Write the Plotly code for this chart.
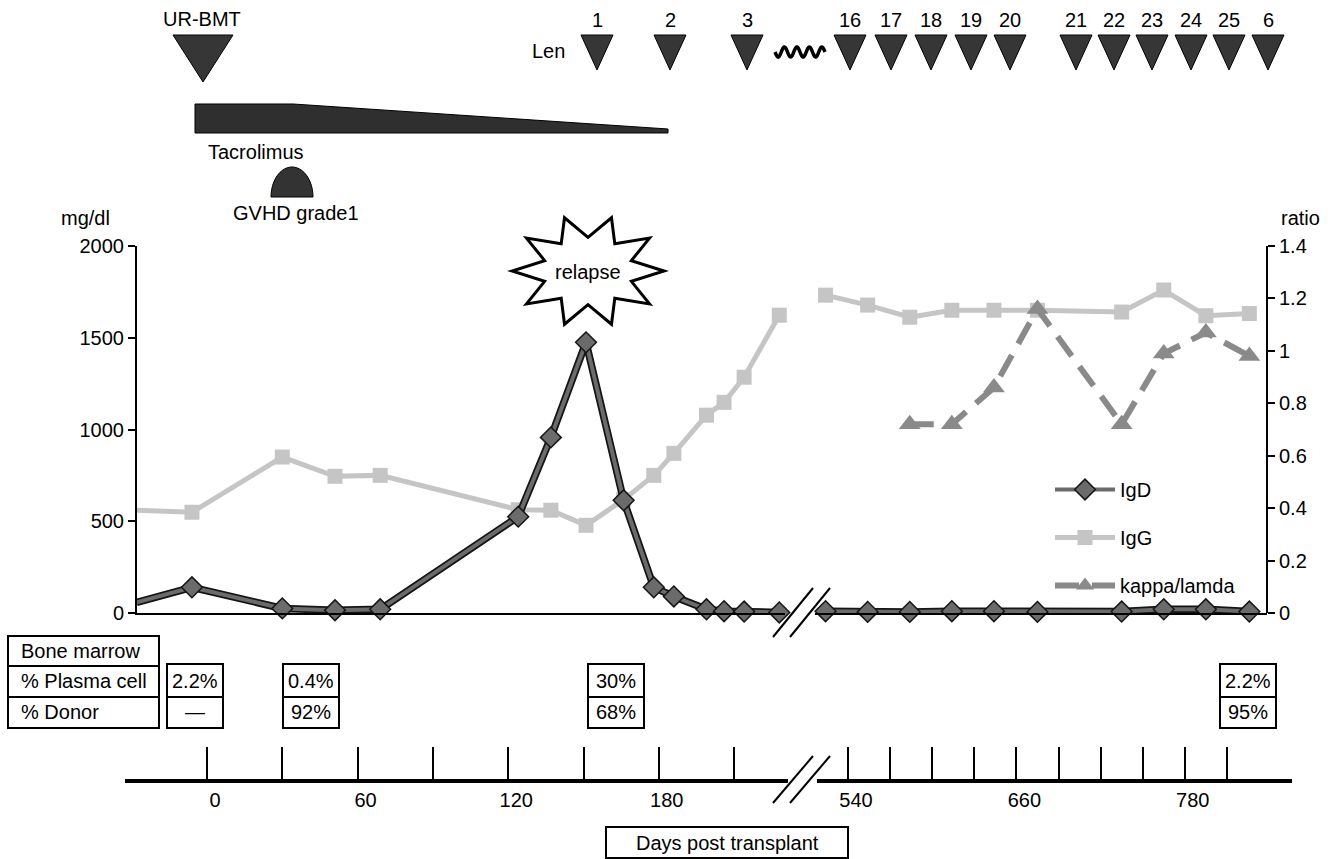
import numpy as np
import plotly.graph_objects as go

W, H = 1333, 859

# ---------------- data ----------------
# first period (before the axis break), days post transplant
days_early = [-28, -6, 30, 51, 69, 124, 137, 151, 166, 178, 186, 199, 206, 214, 228]
igd_early = [58, 140, 25, 15, 20, 525, 957, 1475, 614, 140, 90, 20, 10, 8, 3]
igg_early = [560, 549, 850, 745, 750, 563, 560, 478, 618, 750, 870, 1078, 1148, 1285, 1623]

# second period (after the axis break)
days_late = [524, 554, 584, 614, 644, 675, 735, 765, 795, 826]
igd_late = [10, 6, 6, 10, 10, 6, 8, 20, 20, 8]
igg_late = [1732, 1678, 1612, 1650, 1650, 1650, 1640, 1760, 1620, 1632]

kappa_days = [584, 614, 644, 675, 735, 765, 795, 826]
kappa_lambda = [0.72, 0.72, 0.86, 1.16, 0.72, 0.99, 1.07, 0.98]

# axis ticks
left_ticks = [0, 500, 1000, 1500, 2000]
right_ticks = [0, 0.2, 0.4, 0.6, 0.8, 1.0, 1.2, 1.4]
right_ticktext = ["0", "0.2", "0.4", "0.6", "0.8", "1", "1.2", "1.4"]
time_ticks_early = [0, 30, 60, 90, 120, 150, 180, 210]
time_labels_early = ["0", "", "60", "", "120", "", "180", ""]
time_ticks_late = [540, 570, 600, 630, 660, 690, 720, 750, 780, 810]
time_labels_late = ["540", "", "", "", "660", "", "", "", "780", ""]

# bone marrow findings
bm_plasma = ["2.2%", "0.4%", "30%", "2.2%"]
bm_donor = ["\u2014", "92%", "68%", "95%"]

# lenalidomide cycles
len_cycles = ["1", "2", "3", "16", "17", "18", "19", "20", "21", "22", "23", "24", "25", "6"]

# ---------------- layout helpers ----------------
FONT = "Liberation Sans, Arial, sans-serif"
FS = 20


def fx(px):
    return px / W


def fy(py):
    return 1 - py / H


def path_from(points, close=True):
    s = "M " + " L ".join(f"{fx(x):.5f},{fy(y):.5f}" for x, y in points)
    return s + (" Z" if close else "")


# pixel geometry of the two time scales
PX0, PPD1 = 207.0, 75.3 / 30.0     # day 0 position, px per day (first period)
PX540, PPD2 = 848.0, 42.1 / 30.0   # day 540 position, px per day (second period)


def rng1(a, b):
    return [(a - PX0) / PPD1, (b - PX0) / PPD1]


def rng2(a, b):
    return [540 + (a - PX540) / PPD2, 540 + (b - PX540) / PPD2]


fig = go.Figure()

IGG_C = "#c5c5c5"
KAP_C = "#8a8a8a"
IGD_C = "#6b6b6b"

# IgG
for xs, ys, xa, show in [(days_early, igg_early, "x", True), (days_late, igg_late, "x2", False)]:
    fig.add_trace(go.Scatter(
        x=xs, y=ys, xaxis=xa, yaxis="y", mode="lines+markers", name="IgG",
        legendgroup="igg", legendrank=2, showlegend=show, cliponaxis=False,
        line=dict(color=IGG_C, width=5),
        marker=dict(symbol="square", size=15, color=IGG_C),
    ))

# kappa / lambda ratio on the right axis
fig.add_trace(go.Scatter(
    x=kappa_days, y=kappa_lambda, xaxis="x2", yaxis="y2", mode="lines+markers",
    name="kappa/lamda", legendgroup="kap", legendrank=3, cliponaxis=False,
    line=dict(color=KAP_C, width=6, dash="24px,13px"),
    marker=dict(symbol="triangle-up", size=19, color=KAP_C),
))

# IgD: dark outline underneath, grey line on top
for xs, ys, xa, show in [(days_early, igd_early, "x", True), (days_late, igd_late, "x2", False)]:
    fig.add_trace(go.Scatter(
        x=xs, y=ys, xaxis=xa, yaxis="y", mode="lines", showlegend=False,
        legendgroup="igd", cliponaxis=False, hoverinfo="skip",
        line=dict(color="#151515", width=7.5),
    ))
    fig.add_trace(go.Scatter(
        x=xs, y=ys, xaxis=xa, yaxis="y", mode="lines+markers", name="IgD",
        legendgroup="igd", legendrank=1, showlegend=show, cliponaxis=False,
        line=dict(color=IGD_C, width=4),
        marker=dict(symbol="diamond", size=16, color=IGD_C,
                    line=dict(color="#151515", width=1.5)),
    ))

# empty traces so the time-line axes get their own subplots
for xa in ["x3", "x4"]:
    fig.add_trace(go.Scatter(x=[], y=[], xaxis=xa, yaxis="y3", showlegend=False,
                             hoverinfo="skip"))

top_x = dict(showline=True, linecolor="black", linewidth=2, ticks="",
             showticklabels=False, showgrid=False, zeroline=False, anchor="y",
             automargin=False)
time_x = dict(showline=True, linecolor="black", linewidth=4, ticks="inside",
              ticklen=32, tickwidth=1.6, tickcolor="black", showgrid=False,
              zeroline=False, anchor="y3", ticklabelshift=8, automargin=False,
              tickfont=dict(size=FS, family=FONT, color="black"))

fig.update_layout(
    width=W, height=H, margin=dict(l=0, r=0, t=0, b=0, autoexpand=False),
    paper_bgcolor="white", plot_bgcolor="rgba(0,0,0,0)",
    font=dict(family=FONT, size=FS, color="black"),
    xaxis=dict(domain=[fx(137), fx(785)], range=rng1(137, 785), **top_x),
    xaxis2=dict(domain=[fx(815), fx(1267)], range=rng2(815, 1267), **top_x),
    yaxis=dict(domain=[fy(613), fy(246)], range=[0, 2000], anchor="x",
               tickvals=left_ticks, ticks="outside", ticklen=7, tickwidth=2,
               tickcolor="black", showline=True, linewidth=2, linecolor="black",
               showgrid=False, zeroline=False, automargin=False),
    yaxis2=dict(overlaying="y", side="right", anchor="free", position=fx(1267),
                range=[0, 1.4], tickvals=right_ticks, ticktext=right_ticktext,
                ticks="outside", ticklen=7, tickwidth=2, tickcolor="black",
                showline=True, linewidth=2, linecolor="black",
                showgrid=False, zeroline=False, automargin=False),
    xaxis3=dict(domain=[fx(125), fx(788)], range=rng1(125, 788),
                tickvals=time_ticks_early, ticktext=time_labels_early, **time_x),
    xaxis4=dict(domain=[fx(817), fx(1292)], range=rng2(817, 1292),
                tickvals=time_ticks_late, ticktext=time_labels_late, **time_x),
    yaxis3=dict(domain=[fy(779), fy(760)], anchor="x3", range=[0, 1],
                showline=False, showticklabels=False, ticks="", showgrid=False,
                zeroline=False, automargin=False),
    legend=dict(x=fx(1050), y=fy(470), xanchor="left", yanchor="top",
                bgcolor="rgba(0,0,0,0)", itemwidth=60, tracegroupgap=19,
                font=dict(size=FS, family=FONT, color="black")),
    showlegend=True,
)

shapes = []
ann = []


def add_text(x, y, t, xanchor="center"):
    ann.append(dict(x=fx(x), y=fy(y), xref="paper", yref="paper", text=t,
                    showarrow=False, xanchor=xanchor, yanchor="middle",
                    font=dict(size=FS, family=FONT, color="black")))


def add_path(points, fill="#363636", lw=1, lc="black", close=True):
    shapes.append(dict(type="path", xref="paper", yref="paper",
                       path=path_from(points, close),
                       fillcolor=fill if close else "rgba(0,0,0,0)",
                       line=dict(color=lc, width=lw)))


def add_rect(x0, y0, x1, y1, lw=2):
    shapes.append(dict(type="rect", xref="paper", yref="paper",
                       x0=fx(x0), x1=fx(x1), y0=fy(y1), y1=fy(y0),
                       line=dict(color="black", width=lw), fillcolor="rgba(0,0,0,0)"))


def add_line(x0, y0, x1, y1, lw=2):
    shapes.append(dict(type="line", xref="paper", yref="paper",
                       x0=fx(x0), y0=fy(y0), x1=fx(x1), y1=fy(y1),
                       line=dict(color="black", width=lw)))


# transplant marker
add_text(202, 19, "UR-BMT")
add_path([(173, 35), (233, 35), (203, 82)])

# tacrolimus taper
add_path([(195, 104), (293, 104), (668, 129), (668, 133), (195, 133)], fill="#2f2f2f")
add_text(256, 152, "Tacrolimus")

# GVHD dome
t = np.linspace(0, np.pi, 40)
add_path([(292 + 21 * np.cos(a), 197 - 30 * np.sin(a)) for a in t], fill="#333333")
add_text(296, 213, "GVHD grade1")

# lenalidomide cycles
add_text(548, 51, "Len")
len_px = [597, 670, 747, 850, 891, 931, 971, 1010, 1076, 1114, 1152, 1191, 1229, 1268]
for cx, lab in zip(len_px, len_cycles):
    add_path([(cx - 16, 35), (cx + 16, 35), (cx, 70)])
    add_text(cx, 20, lab)
wx = np.linspace(775, 825, 80)
add_path([(x, 52 + 5 * np.sin(2 * np.pi * (x - 775) / 12.5)) for x in wx],
         lw=3.5, close=False)

# relapse starburst
cx, cy, rx, ry = 588, 271, 76, 56
pts = []
for k in range(20):
    ang = np.pi * k / 10
    r = 1.0 if k % 2 == 0 else 0.6
    pts.append((cx + rx * r * np.cos(ang), cy - ry * r * np.sin(ang)))
shapes.append(dict(type="path", xref="paper", yref="paper", path=path_from(pts),
                   fillcolor="white", line=dict(color="black", width=3)))
add_text(cx, 272, "relapse")

# axis titles
add_text(85, 218, "mg/dl")
add_text(1300, 218, "ratio")

# axis break marks
for y0, y1 in [(637, 588), (803, 756)]:
    add_line(773, y0, 813, y1)
    add_line(790, y0, 830, y1)

# bone marrow table
add_rect(8, 636, 159, 728)
add_line(8, 666, 159, 666)
add_line(8, 697, 159, 697)
add_text(19, 651, "Bone marrow", "left")
add_text(19, 681, "% Plasma cell", "left")
add_text(19, 712, "% Donor", "left")

box_left = [167, 283, 588, 1220]
for bx, p, d in zip(box_left, bm_plasma, bm_donor):
    add_rect(bx, 664, bx + 56, 697)
    add_rect(bx, 697, bx + 56, 728)
    add_text(bx + 28, 681, p)
    add_text(bx + 28, 712, d)

# time axis title
add_rect(606, 827, 848, 858)
add_text(727, 843, "Days post transplant")

fig.update_layout(shapes=shapes, annotations=ann)
fig.write_html("out.html")
